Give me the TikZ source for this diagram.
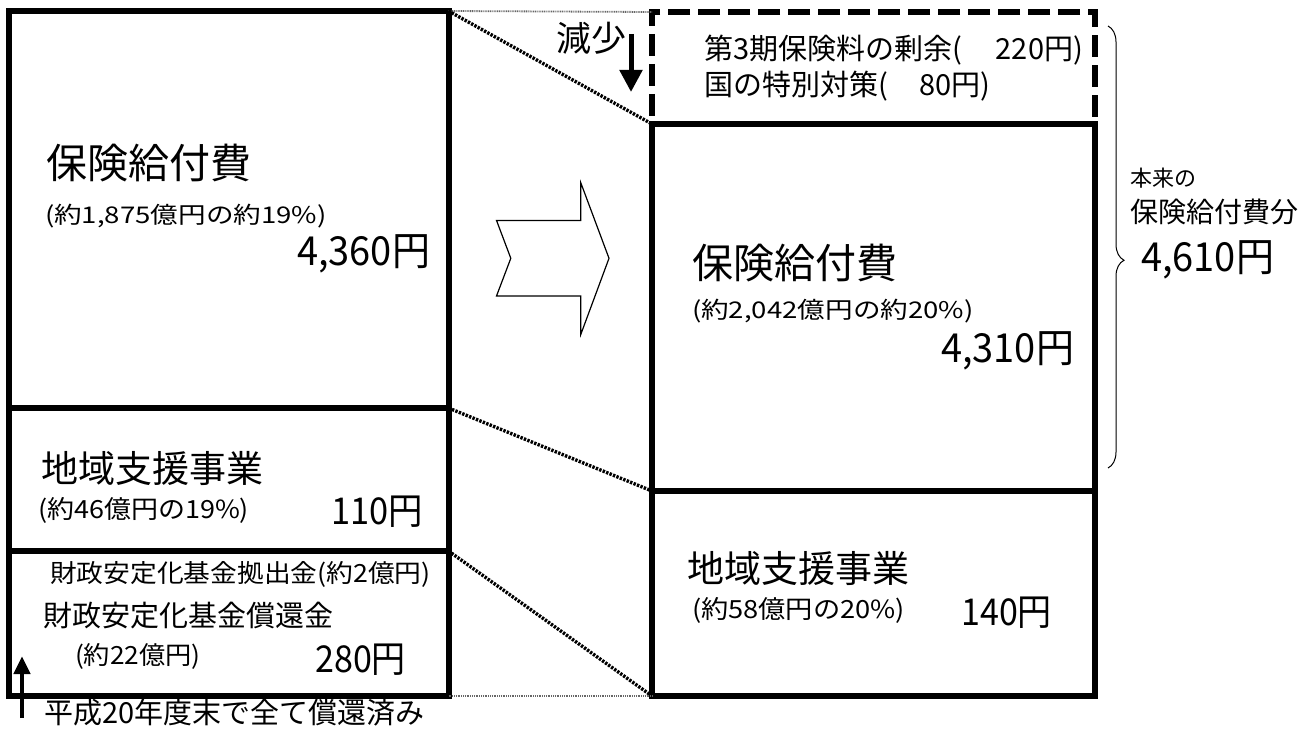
\documentclass[tikz,border=0pt]{standalone}
\usepackage{graphicx}
\usepackage{fontspec}
\setmainfont{Noto Sans CJK JP}
\usetikzlibrary{arrows.meta,decorations.pathreplacing}
\newcommand{\fsz}[1]{\fontsize{#1}{#1}\selectfont}
\newcommand{\sx}[2]{\scalebox{#1}[1]{#2}}
\begin{document}
\begin{tikzpicture}[x=1pt,y=-1pt,
  box/.style={draw, line width=6pt, inner sep=0pt, outer sep=0pt, anchor=north west},
  dbox/.style={draw, line width=6pt, dash pattern=on 22pt off 8pt, inner sep=0pt, outer sep=0pt, anchor=north west},
  conn/.style={line width=3.4pt, dash pattern=on 2.4pt off 1.3pt},
  tconn/.style={line width=1.8pt, black!60, dash pattern=on 1pt off 0.8pt},
  txt/.style={anchor=west, inner sep=0pt, outer sep=0pt},
  rtxt/.style={anchor=east, inner sep=0pt, outer sep=0pt},
  bigarrow/.style={-{Triangle[length=22pt,width=22pt]}, line width=5pt},
]
\useasboundingbox (0,0) rectangle (1306,733);
% left column
\node[box, minimum width=440pt, minimum height=397pt] (L1) at (8.5,11) {};
\node[box, minimum width=440pt, minimum height=143pt] (L2) at (8.5,408) {};
\node[box, minimum width=440pt, minimum height=145pt] (L3) at (8.5,551) {};
% right column
\node[dbox, minimum width=443pt, minimum height=112pt] (R0) at (652,12) {};
\node[box, minimum width=443pt, minimum height=367pt] (R1) at (652,124) {};
\node[box, minimum width=443pt, minimum height=205pt] (R2) at (652,491) {};
% connectors
\draw[tconn] (L1.north east) -- (R0.north west);
\draw[conn] (L1.north east) -- (R1.north west);
\draw[conn] (L2.north east) -- (R2.north west);
\draw[conn] (L3.north east) -- (R2.south west);
\draw[tconn] (L3.south east) -- (R2.south west);
% block arrow
\draw[line width=1.2pt, line join=miter, fill=white]
  (496.5,220.4) -- (580.8,220.4) -- (580.8,182.8) -- (609,258.3)
  -- (580.8,334.4) -- (580.8,296) -- (496.5,296) -- (510.8,258.3) -- cycle;
% brace
\coordinate (bt) at (1108,26);
\coordinate (bb) at (1108,468);
\draw[line width=1pt, decorate, decoration={brace, amplitude=16pt, aspect=0.53}] (bt) -- (bb);
% left texts
\node[txt] (t1) at (46,163) {\fsz{41}保険給付費};
\node[txt] (t2) at (45,216) {\fsz{23}\sx{1.2}{(約1,875億円の約19\%)}};
\node[rtxt] (t3) at (430,254) {\fsz{40}\sx{0.95}{4,360円}};
\node[txt] (t4) at (41,468) {\fsz{37}地域支援事業};
\node[txt] (t5) at (38,510) {\fsz{25}\sx{1.08}{(約46億円の19\%)}};
\node[rtxt] (t6) at (423,512) {\fsz{37}\sx{0.93}{110円}};
\node[txt] (t7) at (50,574) {\fsz{25}\sx{1.07}{財政安定化基金拠出金(約2億円)}};
\node[txt] (t8) at (43,616) {\fsz{29}財政安定化基金償還金};
\node[txt] (t9) at (75,656) {\fsz{25}\sx{1.05}{(約22億円)}};
\node[rtxt] (t10) at (406,660) {\fsz{37}\sx{0.92}{280円}};
\node[txt] (t11) at (44,713) {\fsz{29}平成20年度末で全て償還済み};
% up arrow
\coordinate (ua0) at (22,718);
\coordinate (ua1) at (22,656);
\draw[-{Triangle[length=18pt,width=16pt]}, line width=4.5pt] (ua0) -- (ua1);
% decrease
\node[txt] (t12) at (556,38) {\fsz{35}減少};
\coordinate (da0) at (631,34);
\coordinate (da1) at (631,92);
\draw[bigarrow] (da0) -- (da1);
% right texts
\node[txt] (t13) at (704,50) {\fsz{29}第3期保険料の剰余(\hspace{34pt}220円)};
\node[txt] (t14) at (704,86) {\fsz{29}国の特別対策(\hspace{32pt}80円)};
\node[txt] (t15) at (692,263) {\fsz{41}保険給付費};
\node[txt] (t16) at (692,311) {\fsz{23}\sx{1.2}{(約2,042億円の約20\%)}};
\node[rtxt] (t17) at (1074,351) {\fsz{40}\sx{0.95}{4,310円}};
\node[txt] (t18) at (687,568) {\fsz{37}地域支援事業};
\node[txt] (t19) at (692,610) {\fsz{25}\sx{1.09}{(約58億円の20\%)}};
\node[rtxt] (t20) at (1052,613) {\fsz{37}\sx{0.92}{140円}};
\node[txt] (t21) at (1130,178) {\fsz{22}本来の};
\node[txt] (t22) at (1130,212) {\fsz{28}保険給付費分};
\node[rtxt] (t23) at (1274,260) {\fsz{40}\sx{0.95}{4,610円}};
\end{tikzpicture}
\end{document}
